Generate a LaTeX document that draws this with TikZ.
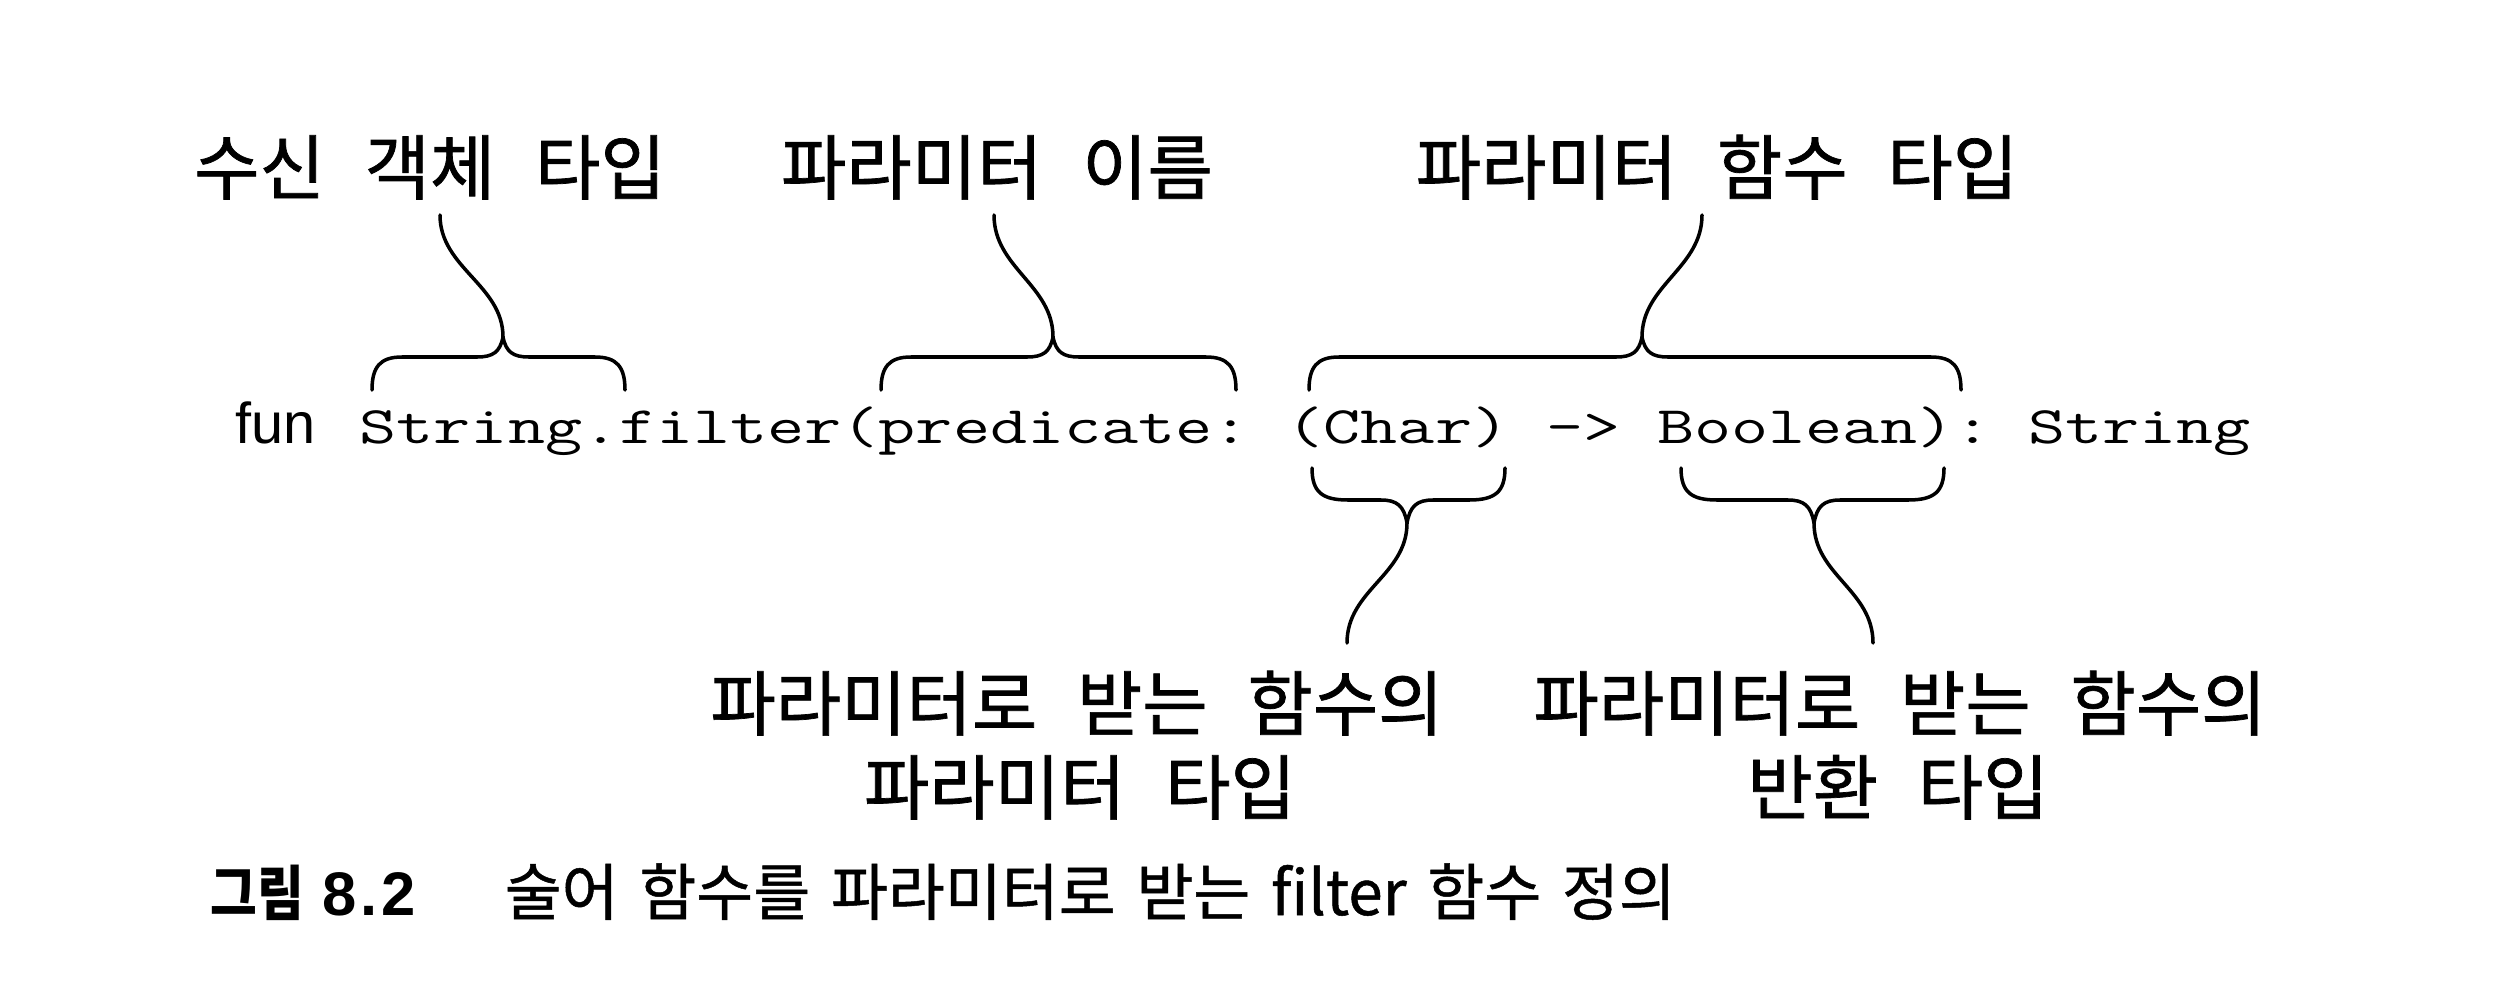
\documentclass[tikz,border=0pt]{standalone}
\usepackage{fontspec}
\usepackage{graphicx}
\newfontfamily\kr[WordSpace=2.5,FakeBold=1]{Noto Sans CJK KR}
\newfontfamily\krcap[WordSpace=1.5,FakeBold=0.8]{Noto Sans CJK KR}
\newfontfamily\krcapb[WordSpace=1.5]{Noto Sans CJK KR}
\newfontfamily\lsans{Liberation Sans}
\newfontfamily\lsansnum[LetterSpace=6]{Liberation Sans}
\newcommand\topbrace[4]{%
  \draw[brace] (#1,390) .. controls (#1,367) and ({#1+8},357) .. ({#1+30},357) -- ({#2-26},357)
     .. controls ({#2-10},357) and ({#2-3},352) .. (#2,337)
     .. controls ({#2+3},352) and ({#2+10},357) .. ({#2+26},357) -- ({#3-30},357)
     .. controls ({#3-8},357) and (#3,367) .. (#3,390);
  \draw[brace] (#2,337) .. controls (#2,285) and (#4,268) .. (#4,215);}
\newcommand\botbrace[4]{%
  \draw[brace] (#1,468) .. controls (#1,492) and ({#1+10},500) .. ({#1+36},500) -- ({#2-26},500)
     .. controls ({#2-10},500) and ({#2-3},506) .. (#2,523)
     .. controls ({#2+3},506) and ({#2+10},500) .. ({#2+26},500) -- ({#3-36},500)
     .. controls ({#3-10},500) and (#3,492) .. (#3,468);
  \draw[brace] (#2,523) .. controls (#2,575) and (#4,590) .. (#4,643);}
\begin{document}
\begin{tikzpicture}[x=0.01cm,y=-0.01cm,
  lbl/.style={font=\kr\fontsize{20.2}{24}\selectfont, inner sep=0, anchor=base},
  brace/.style={line width=1pt, line cap=round, line join=round},
  capt/.style={inner sep=0, anchor=base west}]
\useasboundingbox[fill=white] (0,0) rectangle (2512,1000);
% top labels
\node[lbl] (t1) at (430,194) {수신 객체 타입};
\node[lbl] (t2) at (997,194) {파라미터 이름};
\node[lbl] (t3) at (1717,194) {파라미터 함수 타입};
% code line
\node[inner sep=0, anchor=base east, font=\lsans\fontsize{16.4}{20}\selectfont] (fun) at (316,443) {fun};
\node[inner sep=0, anchor=base west] (sig) at (359,443)
  {\scalebox{1.365}[1]{\ttfamily\fontsize{15}{18}\selectfont\addfontfeatures{FakeBold=0.6}\frenchspacing String.filter(predicate: (Char) -> Boolean): String}};
% braces
\topbrace{372}{503}{625}{440}
\topbrace{881}{1053}{1236}{994}
\topbrace{1309}{1642}{1961}{1702}
\botbrace{1312}{1407}{1505}{1347}
\botbrace{1681}{1814}{1944}{1873}
% bottom labels
\node[lbl] (b1a) at (1077,730) {파라미터로 받는 함수의};
\node[lbl] (b1b) at (1080,814) {파라미터 타입};
\node[lbl] (b2a) at (1900,730) {파라미터로 받는 함수의};
\node[lbl] (b2b) at (1898,814) {반환 타입};
% caption
\node[capt, font=\krcapb\bfseries\fontsize{17}{20}\selectfont] (fig) at (210,915) {\scalebox{0.85}[1]{그림}};
\node[capt, font=\lsansnum\bfseries\fontsize{17.5}{20}\selectfont] (num) at (322,915) {8.2};
\node[capt, font=\krcap\fontsize{17.6}{20}\selectfont] (cap) at (504,915) {술어 함수를 파라미터로 받는 filter 함수 정의};
\end{tikzpicture}
\end{document}
